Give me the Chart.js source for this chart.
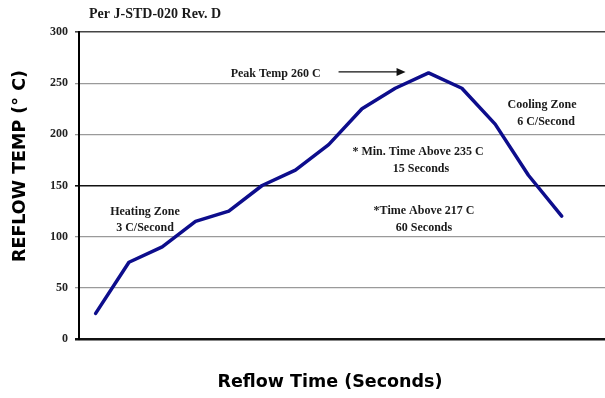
<!DOCTYPE html>
<html>
<head>
<meta charset="utf-8">
<script src="https://cdn.jsdelivr.net/npm/chart.js@4.4.1/dist/chart.umd.min.js"></script>
<style>
  html, body { margin: 0; padding: 0; background: #ffffff; }
  #wrap { width: 605px; height: 398px; position: relative; }
</style>
</head>
<body>
<div id="wrap"><canvas id="reflow" width="605" height="398"></canvas></div>
<script>
// Reflow profile (J-STD-020 Rev. D): one reading per time step
const timeSteps = [0, 1, 2, 3, 4, 5, 6, 7, 8, 9, 10, 11, 12, 13, 14];
const reflowTemps = [25, 75, 90, 115, 125, 150, 165, 190, 225, 245, 260, 245, 210, 160, 120];
const tempTicks = [0, 50, 100, 150, 200, 250, 300];
const peakTemp = 260;

const serif = '"Liberation Serif", "Times New Roman", serif';
const sans = '"DejaVu Sans", "Open Sans", sans-serif';

const points = timeSteps.map((t, i) => ({ x: t, y: reflowTemps[i] }));
const peakIndex = reflowTemps.indexOf(peakTemp);

// Text notes, arrow and axis titles drawn on top of the chart
const notesPlugin = {
  id: 'reflowNotes',
  afterDraw(chart) {
    const ctx = chart.ctx;
    const xs = chart.scales.x, ys = chart.scales.y;
    ctx.save();
    ctx.fillStyle = '#1a1a1a';
    ctx.textBaseline = 'middle';

    ctx.font = 'bold 14px ' + serif;
    ctx.textAlign = 'left';
    ctx.fillText('Per J-STD-020 Rev. D', 89, 14);

    ctx.font = 'bold 12px ' + serif;
    const px = xs.getPixelForValue(timeSteps[peakIndex]);
    const py = ys.getPixelForValue(peakTemp);
    ctx.textAlign = 'right';
    ctx.fillText('Peak Temp 260 C', px - 108, py + 1);

    // arrow pointing at the peak
    ctx.strokeStyle = '#111';
    ctx.lineWidth = 1.3;
    ctx.beginPath();
    ctx.moveTo(px - 90, py - 1);
    ctx.lineTo(px - 30, py - 1);
    ctx.stroke();
    ctx.beginPath();
    ctx.moveTo(px - 23, py - 1);
    ctx.lineTo(px - 32, py - 5);
    ctx.lineTo(px - 32, py + 3);
    ctx.closePath();
    ctx.fillStyle = '#111';
    ctx.fill();

    ctx.fillStyle = '#1a1a1a';
    ctx.textAlign = 'center';
    const notes = [
      ['Heating Zone', 145, 212], ['3 C/Second', 145, 228],
      ['* Min. Time Above 235 C', 418, 152], ['15 Seconds', 421, 169],
      ['*Time Above 217 C', 424, 211], ['60 Seconds', 424, 228],
      ['Cooling Zone', 542, 105], ['6 C/Second', 546, 122]
    ];
    notes.forEach(([t, x, y]) => ctx.fillText(t, x, y));

    // axis titles
    ctx.fillStyle = '#000';
    ctx.font = 'bold 17.5px ' + sans;
    ctx.fillText('Reflow Time (Seconds)', 330, 382);
    ctx.translate(20, 166);
    ctx.rotate(-Math.PI / 2);
    ctx.fillText('REFLOW TEMP (\u00B0 C)', 0, 0);
    ctx.restore();
  }
};

new Chart(document.getElementById('reflow'), {
  type: 'line',
  data: {
    datasets: [{
      data: points,
      borderColor: '#0d0d8c',
      borderWidth: 3.5,
      borderJoinStyle: 'round',
      borderCapStyle: 'round',
      pointRadius: 0,
      tension: 0,
      fill: false
    }]
  },
  options: {
    responsive: false,
    animation: false,
    devicePixelRatio: 1,
    layout: { padding: { left: 0, right: 0, top: 32, bottom: 59 } },
    plugins: { legend: { display: false }, tooltip: { enabled: false }, title: { display: false } },
    scales: {
      x: {
        type: 'linear',
        display: false,
        min: -0.5,
        max: 15.3
      },
      y: {
        min: 0,
        max: 300,
        afterFit(scale) { scale.width = 79; },
        afterBuildTicks(scale) { scale.ticks = tempTicks.map(v => ({ value: v })); },
        border: { display: true, color: '#000', width: 2 },
        grid: {
          tickLength: 4,
          color(c) {
            const v = c.tick && c.tick.value;
            return (v === 0 || v === 150) ? '#111' : (v === 300 ? '#444' : '#9a9a9a');
          },
          lineWidth(c) {
            const v = c.tick && c.tick.value;
            return v === 0 ? 2.5 : (v === 150 || v === 300 ? 1.6 : 1.3);
          }
        },
        ticks: {
          padding: 7,
          color: '#222',
          font: { family: serif, size: 12, weight: 'bold' }
        }
      }
    }
  },
  plugins: [notesPlugin]
});
</script>
</body>
</html>
